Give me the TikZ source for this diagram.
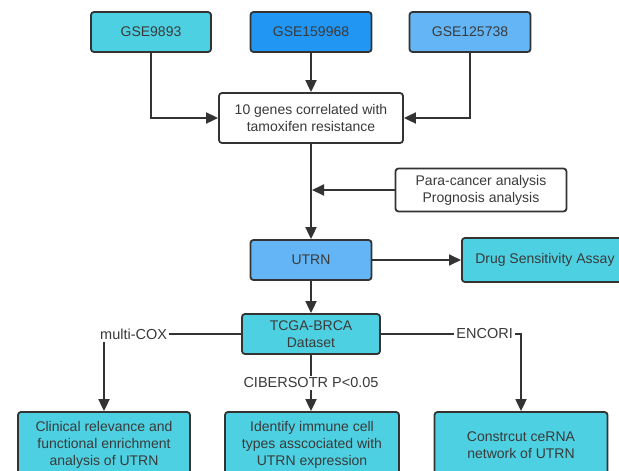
\documentclass[tikz,border=0pt]{standalone}
\usepackage{fontspec}
\setmainfont{Liberation Sans}
\usepackage{tikz}
\usetikzlibrary{positioning,calc,arrows.meta}
\definecolor{BoxCyan}{HTML}{4DD0E1}
\definecolor{BoxBlue}{HTML}{2196F3}
\definecolor{BoxSky}{HTML}{64B5F6}
\definecolor{LineGray}{HTML}{333333}
\definecolor{TextGray}{HTML}{3A3A3A}

\begin{document}
\begin{tikzpicture}[x=1pt,y=-1pt,
  box/.style={draw=LineGray,line width=1.8pt,rounded corners=3pt,align=center,text=TextGray,font=\fontsize{14}{17}\selectfont,inner sep=2pt},
  lbl/.style={fill=white,text=TextGray,font=\fontsize{14.5}{17}\selectfont,inner sep=2pt},
  arr/.style={draw=LineGray,line width=1.8pt,-{Triangle[length=12pt,width=11pt]}},
  ln/.style={draw=LineGray,line width=1.8pt}]
\clip (0,0) rectangle (619,471);
\fill[white] (0,0) rectangle (619,471);
% datasets
\node[box,fill=BoxCyan,minimum width=120pt,minimum height=40pt] (gsea) at (151,32) {GSE9893};
\node[box,fill=BoxBlue,minimum width=121pt,minimum height=40pt] (gseb) at (311,32) {GSE159968};
\node[box,fill=BoxSky,minimum width=121pt,minimum height=40pt] (gsec) at (470,32) {GSE125738};
\node[box,fill=white,minimum width=184pt,minimum height=50pt] (genes) at (311,118) {10 genes correlated with\\tamoxifen resistance};
\node[box,fill=white,minimum width=171pt,minimum height=43pt] (para) at (481,190) {Para-cancer analysis\\Prognosis analysis};
\node[box,fill=BoxSky,minimum width=121pt,minimum height=40pt] (utrn) at (311,260) {UTRN};
\node[box,fill=BoxCyan,minimum width=166pt,minimum height=44pt,anchor=west] (drug) at (461,260) {Drug Sensitivity Assay};
\node[box,fill=BoxCyan,minimum width=138pt,minimum height=40pt] (tcga) at (311,334) {TCGA-BRCA\\Dataset};
% results
\node[box,fill=BoxCyan,minimum width=172pt,minimum height=66pt] (clin) at (104,445) {Clinical relevance and\\functional enrichment\\analysis of UTRN};
\node[box,fill=BoxCyan,minimum width=174pt,minimum height=66pt] (immune) at (312,445) {Identify immune cell\\types asscociated with\\UTRN expression};
\node[box,fill=BoxCyan,minimum width=173pt,minimum height=66pt] (cerna) at (521,445) {Constrcut ceRNA\\network of UTRN};
% labels
\node[lbl,anchor=west] (cox) at (98,334) {multi-COX};
\node[lbl,anchor=east] (enc) at (515,334) {ENCORI};
% connectors
\draw[arr] (gsea.south) |- (genes.west);
\draw[arr] (gsec.south) |- (genes.east);
\draw[arr] (gseb.south) -- (genes.north);
\draw[arr] (genes.south) -- (utrn.north);
\draw[arr] (para.west) -- ([xshift=1pt]para.west -| genes.south);
\draw[arr] (utrn.east) -- (drug.west);
\draw[arr] (utrn.south) -- (tcga.north);
\draw[ln] (tcga.west) -- (cox.east);
\draw[arr] (cox.south -| clin.north) -- (clin.north);
\draw[ln] (tcga.east) -- (enc.west);
\draw[arr] (enc.east) -| (cerna.north);
\draw[arr] (tcga.south) -- node[lbl] (cib) {CIBERSOTR P<0.05} (tcga.south |- immune.north);
\end{tikzpicture}
\end{document}
